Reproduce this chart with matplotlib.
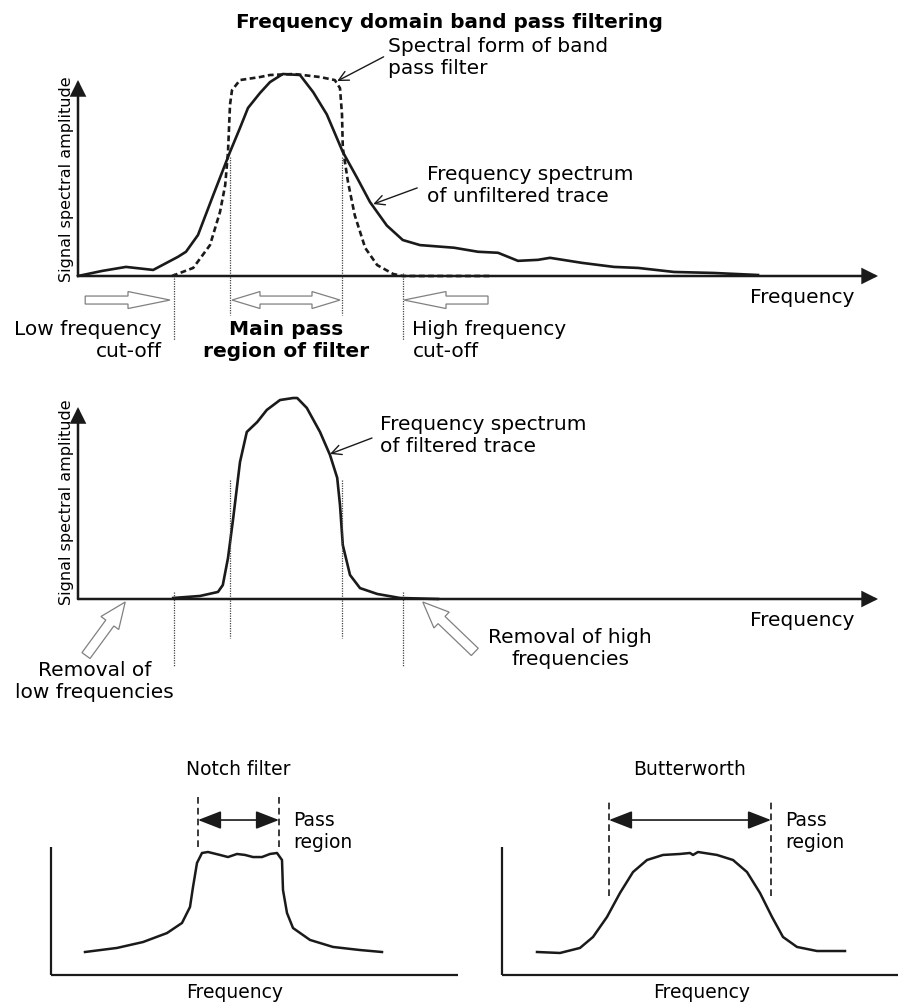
# Frequency domain band pass filtering - schematic diagram
import numpy as np
import matplotlib.pyplot as plt
from matplotlib.patches import Polygon
from matplotlib.transforms import IdentityTransform

# ---- data (frequency in arbitrary units, amplitude normalised to peak = 1) ----
freq_raw = [0, 3, 6, 9.4, 12.5, 13.5, 15, 16.9, 19, 20.25, 21.25, 22.75, 24, 25.6, 27.75, 29.4,
            31.1, 33.1, 34.9, 36.5, 38.6, 40.6, 42.75, 47, 50, 52.5, 55, 57.5, 59, 63, 67, 70,
            74.5, 79.5, 85]
amp_raw = [0, .025, .045, .03, .095, .12, .203, .40, .614, .733, .832, .906, .96, 1.0, .995,
           .91, .80, .614, .485, .366, .25, .178, .153, .14, .12, .115, .075, .08, .09, .065,
           .045, .04, .02, .015, .005]

freq_bp = [11.75, 14.4, 16.5, 17.75, 18.4, 18.75, 19, 19.25, 20.25, 22.75, 24, 27, 30.25, 32.1,
           32.75, 33, 33.1, 33.75, 34.6, 35.9, 37.4, 39.4, 40.6, 51.5]
amp_bp = [0, .04, .153, .317, .45, .614, .847, .92, .97, .985, .995, 1.0, .985, .97, .93, .80,
          .634, .465, .30, .139, .054, .01, 0, 0]

freq_filt = [11.9, 15.25, 17.5, 18.1, 18.75, 19.4, 19.9, 20.25, 21.1, 22.4, 23.6, 25.25, 26.9,
             27.4, 28.6, 30.25, 31.5, 32.4, 32.75, 33.1, 34, 35.25, 37.4, 40.25, 45]
amp_filt = [.005, .015, .035, .069, .203, .40, .564, .678, .827, .876, .936, .985, .995, .995,
            .946, .827, .713, .60, .465, .267, .119, .054, .025, .005, 0]

cutoffs = [12, 19, 33, 40.6]          # low cut, pass start, pass end, high cut

notch_x = [8.5, 16.5, 23, 29, 32.75, 34.75, 35.5, 36.5, 37.75, 39.25, 42.25, 44.25, 46.5, 48.5,
           50.5, 52.75, 54.75, 56.5, 57.75, 58, 59, 60.5, 64.75, 70.5, 77.25, 82.75]
notch_y = [.187, .22, .268, .341, .423, .553, .715, .911, .992, 1.0, .976, .959, .984, .976,
           .959, .959, .984, .992, .935, .691, .504, .382, .285, .228, .203, .187]
notch_pass = [36.75, 57]

butter_x = [8.75, 14.5, 19.5, 22.75, 26.25, 29.5, 32.75, 36.25, 40.25, 44.5, 47, 47.75, 49,
            53.75, 57.75, 61.25, 64.5, 67.5, 70.25, 73.75, 78.75, 85.75]
butter_y = [.187, .179, .22, .309, .472, .667, .837, .935, .976, .984, .992, .976, 1.0, .976,
            .935, .837, .667, .472, .309, .228, .195, .195]
butter_pass = [26.75, 67.25]

#================================================
W, H = 899, 1005
fig = plt.figure(figsize=(W / 100, H / 100), dpi=100)
plt.rcParams['font.family'] = 'DejaVu Sans'
INK = '#1a1a1a'


def panel(x0, base, sx, sy, top, bottom, left=0, right=W):
    # axes placed in the figure; data origin at pixel (x0, base), sx/sy px per unit
    ax = fig.add_axes([left / W, 1 - bottom / H, (right - left) / W, (bottom - top) / H])
    ax.set_xlim((left - x0) / sx, (right - x0) / sx)
    ax.set_ylim((base - bottom) / sy, (base - top) / sy)
    ax.axis('off')
    return ax


def axis_arrows(ax, xmax, ymax, lw=1.8):
    style = '-|>,head_length=0.7,head_width=0.35'
    for xy in [(xmax, 0), (0, ymax)]:
        ax.annotate('', xy=xy, xytext=(0, 0),
                    arrowprops=dict(arrowstyle=style, lw=lw, color=INK, mutation_scale=13,
                                    shrinkA=0, shrinkB=0, joinstyle='miter'))


def hollow_arrow(ax, start, end, shaft=8, head_w=17, head_l=40, double=False):
    p0 = ax.transData.transform(start)
    p1 = ax.transData.transform(end)
    d = p1 - p0
    L = np.hypot(*d)
    u = d / L
    n = np.array([-u[1], u[0]])
    hs, hw = shaft / 2, head_w / 2
    if double:
        st = [(0, 0), (head_l, hw), (head_l, hs), (L - head_l, hs), (L - head_l, hw), (L, 0),
              (L - head_l, -hw), (L - head_l, -hs), (head_l, -hs), (head_l, -hw)]
    else:
        st = [(0, hs), (L - head_l, hs), (L - head_l, hw), (L, 0), (L - head_l, -hw),
              (L - head_l, -hs), (0, -hs)]
    pts = np.array([p0 + s * u + t * n for s, t in st])
    fig.add_artist(Polygon(pts, closed=True, transform=IdentityTransform(),
                           fc='white', ec='#808080', lw=0.9))


def pointer(ax, text_xy, tip_xy):
    ax.annotate('', xy=tip_xy, xytext=text_xy,
                arrowprops=dict(arrowstyle='->,head_length=0.5,head_width=0.25', lw=1.0,
                                color=INK, shrinkA=0, shrinkB=0, mutation_scale=14))


def vline(ax, x, y0, y1):
    ax.plot([x, x], [y0, y1], ls=(0, (1, 1)), lw=0.9, color='#444444', clip_on=False)


fs = 14.5
fs_small = 13.5

fig.text(0.5, 1 - 22 / H, 'Frequency domain band pass filtering', ha='center', va='center',
         fontsize=14.4, fontweight='bold')

#================================================
# Top panel: unfiltered spectrum and band pass filter shape
ax1 = panel(78, 276, 8, 202, 40, 345)
ax1.plot(freq_raw, amp_raw, color=INK, lw=1.9, solid_joinstyle='round', clip_on=False)
ax1.plot(freq_bp, amp_bp, color=INK, lw=1.9, ls=(0, (2.2, 1.3)), clip_on=False)
axis_arrows(ax1, 100, 0.97)
vline(ax1, cutoffs[0], 0.015, -0.317)
vline(ax1, cutoffs[3], 0.015, -0.317)
vline(ax1, cutoffs[1], 0.589, -0.193)
vline(ax1, cutoffs[2], 0.589, -0.193)

ax1.text(-1.4, 0.48, 'Signal spectral amplitude', rotation=90, ha='center', va='center',
         fontsize=11.5)
ax1.text(97.1, -0.104, 'Frequency', ha='right', va='center', fontsize=fs)
ax1.text(38.75, 1.08, 'Spectral form of band\npass filter', ha='left', va='center', fontsize=fs)
pointer(ax1, (38.2, 1.085), (32.4, 0.965))
ax1.text(43.6, 0.446, 'Frequency spectrum\nof unfiltered trace', ha='left', va='center',
         fontsize=fs)
pointer(ax1, (42.4, 0.436), (36.9, 0.356))

hollow_arrow(ax1, (0.9, -0.119), (11.5, -0.119), head_l=42)
hollow_arrow(ax1, (19.25, -0.119), (32.75, -0.119), head_l=28, double=True)
hollow_arrow(ax1, (51.25, -0.119), (40.75, -0.119), head_l=42)

ax1.text(10.5, -0.317, 'Low frequency\ncut-off', ha='right', va='center', fontsize=fs,
         multialignment='right')
ax1.text(26, -0.317, 'Main pass\nregion of filter', ha='center', va='center', fontsize=fs,
         fontweight='bold', multialignment='center')
ax1.text(41.8, -0.317, 'High frequency\ncut-off', ha='left', va='center', fontsize=fs)

#================================================
# Middle panel: filtered spectrum
ax2 = panel(78, 599, 8, 202, 380, 700)
ax2.plot(freq_filt, amp_filt, color=INK, lw=1.9, solid_joinstyle='round', clip_on=False)
axis_arrows(ax2, 100, 0.95)
vline(ax2, cutoffs[0], 0.035, -0.337)
vline(ax2, cutoffs[3], 0.035, -0.337)
vline(ax2, cutoffs[1], 0.589, -0.193)
vline(ax2, cutoffs[2], 0.589, -0.193)

ax2.text(-1.4, 0.48, 'Signal spectral amplitude', rotation=90, ha='center', va='center',
         fontsize=11.5)
ax2.text(97.1, -0.104, 'Frequency', ha='right', va='center', fontsize=fs)
ax2.text(37.75, 0.807, 'Frequency spectrum\nof filtered trace', ha='left', va='center',
         fontsize=fs)
pointer(ax2, (36.75, 0.797), (31.5, 0.718))

hollow_arrow(ax2, (1.0, -0.28), (5.9, -0.015), shaft=10, head_w=22, head_l=26)
hollow_arrow(ax2, (49.6, -0.262), (43.1, -0.015), shaft=10, head_w=22, head_l=26)
ax2.text(2.1, -0.406, 'Removal of\nlow frequencies', ha='center', va='center', fontsize=fs,
         multialignment='center')
ax2.text(61.5, -0.243, 'Removal of high\nfrequencies', ha='center', va='center', fontsize=fs,
         multialignment='center')

#================================================
# Bottom panels: notch and Butterworth filter shapes
for left, right, x0, xs, ys, pas, title, xmax, freq_c, dash_lo, dash_hi in [
        (0, 450, 51, notch_x, notch_y, notch_pass, 'Notch filter', 101.75, 46, 1.04, 1.48),
        (450, 899, 502, butter_x, butter_y, butter_pass, 'Butterworth', 99, 50, 0.642, 1.43)]:
    ax = panel(x0, 975, 4, 123, 750, 1005, left, right)
    ax.plot(xs, ys, color=INK, lw=1.8, solid_joinstyle='round', clip_on=False)
    ax.plot([0, 0], [0, 1.04], color=INK, lw=1.6, clip_on=False, solid_capstyle='butt')
    ax.plot([0, xmax], [0, 0], color=INK, lw=1.6, clip_on=False, solid_capstyle='butt')
    for px in pas:
        ax.plot([px, px], [dash_lo, dash_hi], ls=(0, (4, 2.5)), lw=1.2, color=INK,
                clip_on=False)
    ax.annotate('', xy=(pas[1], 1.26), xytext=(pas[0], 1.26),
                arrowprops=dict(arrowstyle='<|-|>,head_length=0.9,head_width=0.35', lw=1.2,
                                color=INK, mutation_scale=16, shrinkA=0, shrinkB=0))
    ax.text(pas[1] + 3.5, 1.17, 'Pass\nregion', ha='left', va='center', fontsize=fs_small)
    ax.text((pas[0] + pas[1]) / 2, 1.667, title, ha='center', va='center', fontsize=fs_small)
    ax.text(freq_c, -0.146, 'Frequency', ha='center', va='center', fontsize=fs_small)

fig.savefig('out.png', dpi=100)
